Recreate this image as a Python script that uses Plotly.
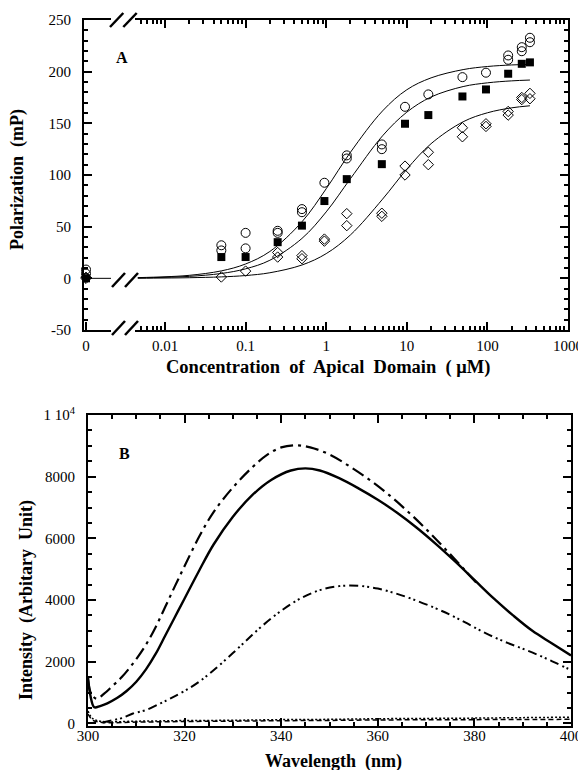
import plotly.graph_objects as go

# ---------------- Panel A data ----------------
zero_conc = [0, 0]
zero_circle = [8.5, 4.5]
zero_square = [0]
zero_diamond = [1, 0]

conc_circle = [0.05, 0.05, 0.1, 0.1, 0.25, 0.25, 0.5, 0.5, 0.95, 1.8, 1.8, 4.9, 4.9,
               9.5, 18.5, 49, 96, 181, 181, 267, 267, 337, 337]
pol_circle = [32, 27, 44, 29, 46, 44, 67, 64, 92.5, 119, 116, 129.6, 125,
              166, 178, 194.7, 199, 215.7, 211.5, 223.7, 219.8, 232.8, 228.5]

conc_square = [0.05, 0.1, 0.25, 0.5, 0.95, 1.8, 4.9, 9.5, 18.5, 49, 96, 181, 267, 337]
pol_square = [20.6, 20.6, 35, 51, 74.8, 96, 110.5, 149.6, 158, 176, 182.8, 198, 207.6, 209]

conc_diamond = [0.05, 0.1, 0.25, 0.25, 0.5, 0.5, 0.95, 0.95, 1.8, 1.8, 4.9, 4.9, 9.5, 9.5,
                18.5, 18.5, 49, 49, 96, 96, 181, 181, 267, 267, 337, 337]
pol_diamond = [1.3, 7, 25, 20.6, 22, 19, 38, 36, 62.6, 51, 63, 60, 108.6, 100,
               122, 110, 145.7, 137, 149.6, 147, 161.5, 158, 175, 173, 179, 173.8]

fit_conc = [0.0046, 0.01, 0.02, 0.05, 0.1, 0.2, 0.5, 1, 2, 5, 10, 20, 50, 100, 200, 337]
fit_circle = [0.7, 1.5, 2.9, 7.2, 13.9, 26, 54.7, 86.7, 122, 162, 182.5, 194, 202, 205, 206.5, 207]
fit_square = [0.4, 1.0, 1.9, 4.7, 9.2, 17.5, 38.6, 64.3, 96.5, 137.9, 160.8, 175.5, 185.6, 189.2, 191.1, 191.9]
fit_diamond = [0.1, 0.3, 0.6, 1.4, 2.7, 5.4, 12.9, 23.9, 42, 76.6, 105.6, 130.3, 151.5, 160.2, 165, 167]

zero_fit_x = [0, 1.0]
zero_fit_y = [0, 0]

logA_major = [0.01, 0.1, 1, 10, 100, 1000]
logA_labels = ["0.01", "0.1", "1", "10", "100", "1000"]
A_ytickvals = [-50, 0, 50, 100, 150, 200, 250]
A_yticktext = ["-50", "0", "50", "100", "150", "200", "250"]

# ---------------- Panel B data ----------------
wl_solid = [300, 300.5, 301.3, 302.5, 304, 306, 308, 310, 312, 314, 316, 318, 320, 323, 326,
            330, 334, 338, 342, 345, 348, 352, 356, 360, 364, 368, 372, 376, 380, 384,
            388, 392, 396, 400]
int_solid = [1500, 900, 520, 560, 650, 820, 1050, 1350, 1750, 2250, 2850, 3450, 4050, 4950, 5800,
             6700, 7400, 7900, 8200, 8270, 8200, 7950, 7620, 7250, 6830, 6350, 5820, 5250, 4650, 4050,
             3500, 3000, 2600, 2200]

wl_dash = [300, 300.7, 301.8, 303.4, 305, 307, 309.6, 312, 314, 316, 318, 320, 323, 326, 330,
           334, 337, 340, 343, 346, 350, 354, 358, 362, 366, 370, 374, 378, 381]
int_dash = [1400, 950, 800, 970, 1200, 1500, 2000, 2550, 3120, 3780, 4450, 5100, 6050, 6850, 7650,
            8300, 8700, 8950, 9020, 8950, 8720, 8350, 7930, 7450, 6900, 6300, 5650, 4970, 4450]

wl_ddot = [303, 305, 307, 309.3, 312, 315, 317, 320, 323, 326, 330, 333, 336, 340, 344, 348,
           352, 356, 360, 364, 368, 372, 375, 378, 381, 384, 387, 390, 393, 396, 399, 400]
int_ddot = [30, 100, 170, 320, 430, 650, 800, 1050, 1350, 1720, 2280, 2720, 3150, 3650, 4050, 4320,
            4450, 4460, 4370, 4200, 3980, 3730, 3520, 3280, 3030, 2800, 2600, 2420, 2230, 2020, 1800, 1730]

wl_flat = [300, 301, 303, 310, 320, 330, 340, 350, 360, 370, 380, 390, 400]
int_dotted = [400, 150, 60, 70, 90, 100, 120, 130, 150, 160, 170, 185, 200]
int_shortdash = [300, 100, 30, 40, 60, 70, 85, 95, 110, 115, 120, 125, 130]

B_tickvals = [0, 2000, 4000, 6000, 8000, 10000]
B_ticktext = ["0", "2000", "4000", "6000", "8000", "1 10<sup>4</sup>"]

# ---------------- figure ----------------
# the page body has an 8px margin, so the figure is 8px smaller than the window
OFF = 8
W, H = 586 - OFF, 770 - OFF
FONT = "Liberation Serif"


def px(x):
    return (x - OFF) / W


def py(y):
    return 1 - (y - OFF) / H


fig = go.Figure()

mk_circle = dict(symbol="circle-open", size=9, color="black", line=dict(width=1))
mk_square = dict(symbol="square", size=8, color="black")
mk_diamond = dict(symbol="diamond-open", size=8, color="black", line=dict(width=1))

# panel A, zero segment
fig.add_trace(go.Scatter(x=zero_fit_x, y=zero_fit_y, mode="lines", line=dict(color="black", width=1),
                         xaxis="x", yaxis="y", cliponaxis=False, showlegend=False))
fig.add_trace(go.Scatter(x=zero_conc, y=zero_circle, mode="markers", marker=mk_circle,
                         xaxis="x", yaxis="y", cliponaxis=False, showlegend=False))
fig.add_trace(go.Scatter(x=zero_conc[:1], y=zero_square, mode="markers", marker=mk_square,
                         xaxis="x", yaxis="y", cliponaxis=False, showlegend=False))
fig.add_trace(go.Scatter(x=zero_conc, y=zero_diamond, mode="markers", marker=mk_diamond,
                         xaxis="x", yaxis="y", cliponaxis=False, showlegend=False))

# panel A, log segment
for fy in (fit_circle, fit_square, fit_diamond):
    fig.add_trace(go.Scatter(x=fit_conc, y=fy, mode="lines", line=dict(color="black", width=1, shape="spline"),
                             xaxis="x2", yaxis="y2", showlegend=False))
fig.add_trace(go.Scatter(x=conc_circle, y=pol_circle, mode="markers", marker=mk_circle,
                         xaxis="x2", yaxis="y2", showlegend=False))
fig.add_trace(go.Scatter(x=conc_square, y=pol_square, mode="markers", marker=mk_square,
                         xaxis="x2", yaxis="y2", showlegend=False))
fig.add_trace(go.Scatter(x=conc_diamond, y=pol_diamond, mode="markers", marker=mk_diamond,
                         xaxis="x2", yaxis="y2", showlegend=False))

# panel B
fig.add_trace(go.Scatter(x=wl_flat, y=int_dotted, mode="lines",
                         line=dict(color="black", width=1.5, dash="2px,2px", shape="spline"),
                         xaxis="x3", yaxis="y3", showlegend=False))
fig.add_trace(go.Scatter(x=wl_flat, y=int_shortdash, mode="lines",
                         line=dict(color="black", width=1.5, dash="5px,3px", shape="spline"),
                         xaxis="x3", yaxis="y3", showlegend=False))
fig.add_trace(go.Scatter(x=wl_ddot, y=int_ddot, mode="lines",
                         line=dict(color="black", width=2, dash="9px,4px,2px,3px,2px,4px", shape="spline"),
                         xaxis="x3", yaxis="y3", showlegend=False))
fig.add_trace(go.Scatter(x=wl_dash, y=int_dash, mode="lines",
                         line=dict(color="black", width=2.2, dash="13px,5px,3px,5px", shape="spline"),
                         xaxis="x3", yaxis="y3", showlegend=False))
fig.add_trace(go.Scatter(x=wl_solid, y=int_solid, mode="lines",
                         line=dict(color="black", width=2.4, shape="spline"),
                         xaxis="x3", yaxis="y3", showlegend=False))

tickfont = dict(family=FONT, size=15, color="black")
common = dict(showgrid=False, zeroline=False, showline=True, linecolor="black", linewidth=2,
              ticks="inside", tickcolor="black", tickwidth=1.5, ticklen=8, tickfont=tickfont,
              automargin=False)
minor_t = dict(ticks="inside", ticklen=4, tickwidth=1.5, tickcolor="black")

yA_dom = [py(330), py(20)]
yB_dom = [py(725.5), py(415)]
log_left = -2 - 30 / 80.6

fig.update_layout(
    width=W, height=H, margin=dict(l=0, r=0, t=0, b=0),
    paper_bgcolor="white", plot_bgcolor="white",
    xaxis=dict(domain=[px(84), px(111)], range=[-0.08, 1.0], anchor="y", mirror=True,
               tickmode="array", tickvals=[0], ticktext=["0"], ticklabelstandoff=1, **common),
    yaxis=dict(domain=yA_dom, range=[-50, 250], anchor="x", tickmode="array",
               tickvals=A_ytickvals, ticktext=A_yticktext, ticklabelstandoff=8,
               minor=dict(dtick=10, tick0=0, **minor_t), **common),
    xaxis2=dict(domain=[px(135), px(568)], type="log", range=[log_left, 3], anchor="y2",
                mirror="allticks", tickmode="array", tickvals=logA_major, ticktext=logA_labels,
                ticklabelstandoff=1,
                minor=dict(tickmode="array",
                           tickvals=[m * 10 ** e for e in range(-3, 3) for m in range(2, 10)],
                           **minor_t),
                **common),
    yaxis2=dict(domain=yA_dom, range=[-50, 250], anchor="x2", side="right", showticklabels=False,
                tickmode="array", tickvals=A_ytickvals,
                minor=dict(dtick=10, tick0=0, **minor_t), **common),
    xaxis3=dict(domain=[px(88), px(571)], range=[300, 400], anchor="y3", mirror="allticks",
                tickmode="linear", tick0=300, dtick=20, ticklabelstandoff=-5,
                minor=dict(dtick=5, tick0=300, **minor_t), **common),
    yaxis3=dict(domain=yB_dom, range=[-70, 10000], anchor="x3", mirror="allticks",
                tickmode="array", tickvals=B_tickvals, ticktext=B_ticktext, ticklabelstandoff=8,
                minor=dict(dtick=500, tick0=0, **minor_t), **common),
)

# axis break marks (decoration)
for (xa, xb), yc in [((110, 123.3), 20), ((123.3, 136.7), 20),
                     ((112, 125), 280), ((125, 138), 280),
                     ((112, 125), 328), ((125, 138), 328)]:
    fig.add_shape(type="line", xref="paper", yref="paper", x0=px(xa), x1=px(xb),
                  y0=py(yc + 7), y1=py(yc - 7), line=dict(color="black", width=2.5))

lab_x = dict(family=FONT, size=18, color="black")
lab_y = dict(family=FONT, size=18, color="black")
ann = [
    dict(text="<b>A</b>", x=px(122), y=py(58), font=dict(family=FONT, size=16, color="black")),
    dict(text="<b>B</b>", x=px(124), y=py(453), font=dict(family=FONT, size=16, color="black")),
    dict(text="<b>Polarization  (mP)</b>", x=px(18), y=py(180), textangle=-90, font=lab_y),
    dict(text="<b>Concentration  of  Apical  Domain  ( μM)</b>", x=px(328), y=py(367),
         font=dict(family=FONT, size=18.5, color="black")),
    dict(text="<b>Intensity  (Arbitary  Unit)</b>", x=px(26), y=py(600), textangle=-90, font=lab_y),
    dict(text="<b>Wavelength  (nm)</b>", x=px(333), y=py(761), font=lab_x),
]
for a in ann:
    fig.add_annotation(xref="paper", yref="paper", showarrow=False,
                       xanchor="center", yanchor="middle", **a)

fig.write_html("out.html")
